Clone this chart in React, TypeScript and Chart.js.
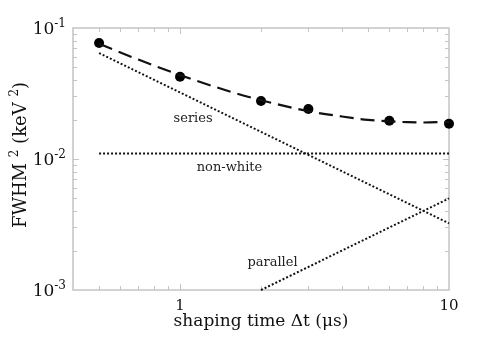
import React, { useEffect, useRef } from "react";
import { Chart, registerables } from "chart.js";

Chart.register(...registerables);

// Measured points
const measT = [0.5, 1, 2, 3, 6, 10];
const measFWHM2 = [0.0768, 0.0425, 0.0277, 0.0241, 0.0196, 0.0186];

// Fitted total curve (dashed)
const fitT = [0.5, 0.7, 1, 1.5, 2, 3, 4, 5, 6, 7, 8, 10];
const fitFWHM2 = [0.0757, 0.0574, 0.0437, 0.0332, 0.0281, 0.0232, 0.0211, 0.0199, 0.0194, 0.0191, 0.019, 0.0192];

// Noise components (dotted)
const seriesT = [0.5, 10];
const seriesV = [0.0644, 0.00323];
const nonWhiteT = [0.5, 10];
const nonWhiteV = [0.011, 0.011];
const parallelT = [2, 10];
const parallelV = [0.001, 0.005];

// Component labels, anchored in data coordinates
const labelTexts = ["series", "non-white", "parallel"];
const labelT = [1.118, 1.527, 2.207];
const labelV = [0.0202, 0.00853, 0.00161];

// Axis ticks
const xMajorTicks = [1, 10];
const xTickLabels = ["1", "10"];
const yMajorTicks = [0.1, 0.01, 0.001];
const yTickExponents = ["-1", "-2", "-3"];

const FONT = "'DejaVu Serif', serif";

const toPts = (xs: number[], ys: number[]) => xs.map((x, i) => ({ x, y: ys[i] }));

const framePlugin = {
  id: "frame",
  beforeDatasetsDraw(chart: any) {
    const { ctx, chartArea: a, scales } = chart;
    const xs = scales.x;
    const ys = scales.y;
    ctx.save();
    ctx.strokeStyle = "#c4c4c4";
    ctx.lineWidth = 1.5;
    ctx.strokeRect(a.left, a.top, a.right - a.left, a.bottom - a.top);
    ctx.lineWidth = 1;
    for (let d = -1; d <= 1; d++) {
      for (let m = 1; m <= 9; m++) {
        const v = m * Math.pow(10, d);
        if (v <= xs.min + 1e-9 || v >= xs.max - 1e-9) continue;
        const px = Math.round(xs.getPixelForValue(v)) + 0.5;
        const len = m === 1 ? 6 : 4;
        ctx.beginPath();
        ctx.moveTo(px, a.bottom);
        ctx.lineTo(px, a.bottom - len);
        ctx.moveTo(px, a.top);
        ctx.lineTo(px, a.top + len);
        ctx.stroke();
      }
    }
    for (let d = -3; d <= -1; d++) {
      for (let m = 1; m <= 9; m++) {
        const v = m * Math.pow(10, d);
        if (v <= ys.min * 1.0001 || v >= ys.max * 0.9999) continue;
        const py = Math.round(ys.getPixelForValue(v)) + 0.5;
        const len = m === 1 ? 6 : 4;
        ctx.beginPath();
        ctx.moveTo(a.left, py);
        ctx.lineTo(a.left + len, py);
        ctx.moveTo(a.right, py);
        ctx.lineTo(a.right - len, py);
        ctx.stroke();
      }
    }
    ctx.restore();
  },
  afterDraw(chart: any) {
    const { ctx, chartArea: a, scales } = chart;
    const xs = scales.x;
    const ys = scales.y;
    ctx.save();
    ctx.fillStyle = "#111";
    ctx.font = `15px ${FONT}`;
    ctx.textAlign = "center";
    ctx.textBaseline = "alphabetic";
    xMajorTicks.forEach((v, i) => {
      ctx.fillText(xTickLabels[i], xs.getPixelForValue(v), a.bottom + 20);
    });
    yMajorTicks.forEach((v, i) => {
      const py = ys.getPixelForValue(v);
      ctx.font = `12px ${FONT}`;
      const ew = ctx.measureText(yTickExponents[i]).width;
      const right = a.left - 7;
      ctx.textAlign = "right";
      ctx.fillText(yTickExponents[i], right, py - 1);
      ctx.font = `17px ${FONT}`;
      ctx.fillText("10", right - ew, py + 6);
    });
    ctx.font = `17px ${FONT}`;
    ctx.textAlign = "center";
    ctx.fillText("shaping time \u0394t (\u03bcs)", (a.left + a.right) / 2, a.bottom + 36);
    const segs: [string, number, number][] = [
      ["FWHM ", 18, 0],
      ["2", 12, -8],
      [" (keV ", 18, 0],
      ["2", 12, -8],
      [")", 18, 0],
    ];
    let total = 0;
    segs.forEach(([t, s]) => {
      ctx.font = `${s}px ${FONT}`;
      total += ctx.measureText(t).width;
    });
    ctx.translate(26, (a.top + a.bottom) / 2 - 4);
    ctx.rotate(-Math.PI / 2);
    ctx.textAlign = "left";
    let x = -total / 2;
    segs.forEach(([t, s, dy]) => {
      ctx.font = `${s}px ${FONT}`;
      ctx.fillText(t, x, dy);
      x += ctx.measureText(t).width;
    });
    ctx.restore();
    ctx.save();
    ctx.fillStyle = "#222";
    ctx.font = `13px ${FONT}`;
    ctx.textAlign = "center";
    ctx.textBaseline = "middle";
    labelTexts.forEach((t, i) => {
      ctx.fillText(t, xs.getPixelForValue(labelT[i]), ys.getPixelForValue(labelV[i]));
    });
    ctx.restore();
  },
};

export default function App() {
  const ref = useRef<HTMLCanvasElement>(null);
  useEffect(() => {
    if (!ref.current) return;
    const dotted = {
      borderColor: "#111",
      borderWidth: 2,
      borderDash: [2, 2],
      pointRadius: 0,
      fill: false,
      clip: false as any,
    };
    const chart = new Chart(ref.current, {
      type: "line",
      data: {
        datasets: [
          { label: "series", data: toPts(seriesT, seriesV), ...dotted },
          { label: "non-white", data: toPts(nonWhiteT, nonWhiteV), ...dotted },
          { label: "parallel", data: toPts(parallelT, parallelV), ...dotted },
          {
            label: "fit",
            data: toPts(fitT, fitFWHM2),
            borderColor: "#111",
            borderWidth: 2.2,
            borderDash: [14, 7],
            pointRadius: 0,
            cubicInterpolationMode: "monotone",
            fill: false,
            clip: false as any,
          },
          {
            label: "measured",
            data: toPts(measT, measFWHM2),
            showLine: false,
            pointRadius: 5,
            pointBackgroundColor: "#000",
            pointBorderColor: "#000",
            pointBorderWidth: 0,
            clip: false as any,
          },
        ],
      },
      options: {
        responsive: false,
        animation: false,
        layout: { padding: { left: 73, top: 28, right: 42, bottom: 51 } },
        plugins: { legend: { display: false }, tooltip: { enabled: false } },
        scales: {
          x: { type: "logarithmic", min: 0.4, max: 10, display: false },
          y: { type: "logarithmic", min: 0.001, max: 0.1, display: false },
        },
      },
      plugins: [framePlugin],
    });
    return () => chart.destroy();
  }, []);
  return (
    <div style={{ position: "fixed", left: 0, top: 0, width: 491, height: 341, background: "#fff" }}>
      <canvas ref={ref} width={491} height={341} style={{ display: "block" }} />
    </div>
  );
}
